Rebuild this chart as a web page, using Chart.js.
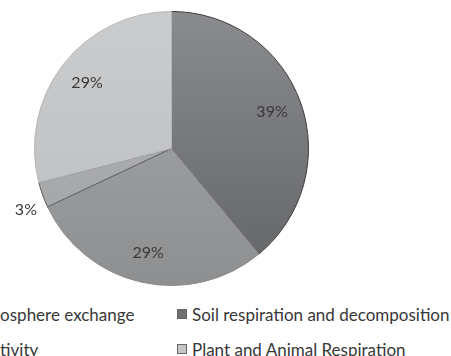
<!DOCTYPE html>
<html>
<head>
<meta charset="utf-8">
<script src="https://cdn.jsdelivr.net/npm/chart.js@4/dist/chart.umd.min.js"></script>
<style>
  html, body { margin: 0; padding: 0; background: #fff; overflow: hidden; }
  #wrap { position: relative; width: 451px; height: 356px; }
  #pie { position: absolute; left: 0; top: 0; }
  #legend {
    position: absolute; top: 303px; left: -88px;
    display: grid; row-gap: 13px;
    font-family: Lato, sans-serif; font-size: 17px; color: #383838;
  }
  .lg-item { display: flex; align-items: center; height: 22px; white-space: nowrap; }
  .lg-box { width: 8px; height: 8px; margin-right: 5px; border: 1px solid #666; flex: none; }
</style>
</head>
<body>
<div id="wrap">
  <canvas id="pie" width="451" height="300"></canvas>
  <div id="legend"></div>
</div>
<script>
'use strict';

// ── Data ──────────────────────────────────────────────────
const LABELS  = ['Soil respiration and decomposition', 'Ocean-atmosphere exchange',
                 'Volcanic activity', 'Plant and Animal Respiration'];
const VALUES  = [39, 29, 3, 29];
const LEGEND_ORDER = [1, 0, 2, 3];   // legend reads across rows

// ── Colors ────────────────────────────────────────────────
const TOP    = ['#8a8b8e', '#a7a8aa', '#b0b1b3', '#cbccce'];
const BOTTOM = ['#636466', '#8e8f91', '#a3a4a6', '#bcbdbf'];
const EDGE   = ['#3c3c3c', '#8a8b8d', '#5c5d5f', '#b4b5b7'];
const BOX    = ['#6e6f71', '#98999b', '#a9aaac', '#c6c7c9'];
const TEXT   = '#383838';
const FONT   = '16px Lato, sans-serif';

function sliceFill(ctx) {
  const area = ctx.chart.chartArea;
  if (!area) return TOP[ctx.dataIndex];
  const g = ctx.chart.ctx.createLinearGradient(0, area.top, 0, area.bottom);
  g.addColorStop(0, TOP[ctx.dataIndex]);
  g.addColorStop(1, BOTTOM[ctx.dataIndex]);
  return g;
}

// ── Percent labels ────────────────────────────────────────
const pctLabels = {
  id: 'pctLabels',
  afterDatasetsDraw(chart) {
    const ctx = chart.ctx;
    const total = VALUES.reduce((s, v) => s + v, 0);
    ctx.save();
    ctx.font = FONT;
    ctx.fillStyle = TEXT;
    chart.getDatasetMeta(0).data.forEach((arc, i) => {
      const p = arc.getProps(['x', 'y', 'startAngle', 'endAngle', 'outerRadius'], true);
      const mid = (p.startAngle + p.endAngle) / 2;
      const share = VALUES[i] / total;
      const txt = Math.round(share * 100) + '%';
      if (share < 0.05) {
        const r = p.outerRadius + 6;
        ctx.textAlign = 'right';
        ctx.textBaseline = 'middle';
        ctx.fillText(txt, p.x + Math.cos(mid) * r, p.y + Math.sin(mid) * r + 13);
      } else {
        const r = p.outerRadius * 0.78;
        ctx.textAlign = 'center';
        ctx.textBaseline = 'middle';
        ctx.fillText(txt, p.x + Math.cos(mid) * r, p.y + Math.sin(mid) * r);
      }
    });
    ctx.restore();
  }
};

// ── Chart ─────────────────────────────────────────────────
const chart = new Chart(document.getElementById('pie'), {
  type: 'pie',
  data: {
    labels: LABELS,
    datasets: [{
      data: VALUES,
      backgroundColor: sliceFill,
      borderColor: EDGE,
      borderWidth: 1,
    }]
  },
  options: {
    responsive: false,
    animation: false,
    layout: { padding: { left: 0, right: 108, top: 11, bottom: 14 } },
    plugins: { legend: { display: false }, tooltip: { enabled: false } },
  },
  plugins: [pctLabels]
});

// ── HTML legend (first column runs off the left edge) ─────
(function buildLegend() {
  const el = document.getElementById('legend');
  const m = document.createElement('canvas').getContext('2d');
  m.font = '17px Lato, sans-serif';
  const cut = m.measureText('Ocean-atm').width;    // hidden part of col 1
  const left = -Math.round(cut + 10 + 5);
  el.style.left = left + 'px';
  el.style.gridTemplateColumns = (177 - left) + 'px auto';
  LEGEND_ORDER.forEach(i => {
    el.innerHTML += `
      <div class="lg-item">
        <span class="lg-box" style="background:${BOX[i]}"></span>
        <span>${LABELS[i]}</span>
      </div>`;
  });
})();
</script>
</body>
</html>
